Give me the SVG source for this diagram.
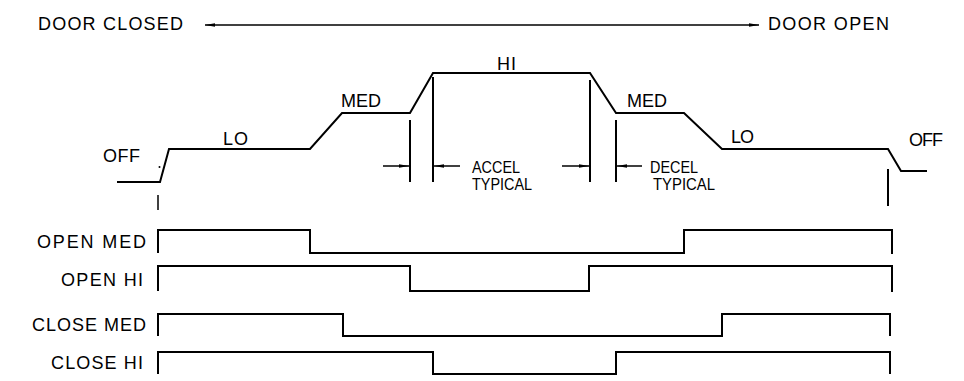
<svg xmlns="http://www.w3.org/2000/svg" width="964" height="381" viewBox="0 0 964 381">
<style>
.t{font-family:"Liberation Sans",Arial,sans-serif;font-size:18px;fill:#000}
.s{font-family:"Liberation Sans",Arial,sans-serif;font-size:16px;fill:#000}
.w{fill:none;stroke:#000;stroke-width:2;stroke-linejoin:miter}
.d{fill:none;stroke:#000;stroke-width:1.5}
</style>
<defs>
<marker id="ah" viewBox="0 0 10 4" refX="10" refY="2" markerWidth="10" markerHeight="4" markerUnits="userSpaceOnUse" orient="auto-start-reverse">
<path d="M0,0.2 L10,2 L0,3.8 Z" fill="#000"/>
</marker>
</defs>
<rect width="964" height="381" fill="#fff"/>
<g id="direction">
<text class="t" x="38" y="30" textLength="145" lengthAdjust="spacing">DOOR CLOSED</text>
<text class="t" x="768" y="30" textLength="121" lengthAdjust="spacing">DOOR OPEN</text>
<line class="d" x1="205" y1="25" x2="759" y2="25" marker-start="url(#ah)" marker-end="url(#ah)"/>
</g>
<g id="speed-profile">
<polyline class="w" points="117,182 160,182 169,149 310,149 342,113 410,113 433,73 590,73 616,113 684,113 722,149 888,149 901,171 927,171"/>
<text class="t" x="103" y="162" textLength="37" lengthAdjust="spacing">OFF</text>
<text class="t" x="223" y="145" textLength="25" lengthAdjust="spacing">LO</text>
<text class="t" x="341" y="107" textLength="40" lengthAdjust="spacing">MED</text>
<text class="t" x="497" y="70" textLength="19" lengthAdjust="spacing">HI</text>
<text class="t" x="627" y="107" textLength="40" lengthAdjust="spacing">MED</text>
<text class="t" x="731" y="143" textLength="23" lengthAdjust="spacing">LO</text>
<text class="t" x="909" y="146" textLength="34" lengthAdjust="spacing">OFF</text>
<circle cx="159.5" cy="167" r="1" fill="#000"/>
<line class="d" x1="158" y1="195" x2="158" y2="210"/>
</g>
<g id="dimensions">
<line class="w" x1="410" y1="120" x2="410" y2="182"/>
<line class="w" x1="433" y1="77" x2="433" y2="182"/>
<line class="w" x1="590" y1="80" x2="590" y2="182"/>
<line class="w" x1="616" y1="120" x2="616" y2="182"/>
<line class="w" x1="888" y1="169" x2="888" y2="206"/>
<line class="d" x1="383" y1="166" x2="409" y2="166" marker-end="url(#ah)"/>
<line class="d" x1="460" y1="166" x2="434" y2="166" marker-end="url(#ah)"/>
<line class="d" x1="562" y1="166" x2="589" y2="166" marker-end="url(#ah)"/>
<line class="d" x1="642" y1="166" x2="617" y2="166" marker-end="url(#ah)"/>
<text class="s" x="472" y="173" textLength="48" lengthAdjust="spacingAndGlyphs">ACCEL</text>
<text class="s" x="472" y="190" textLength="60" lengthAdjust="spacingAndGlyphs">TYPICAL</text>
<text class="s" x="650" y="173" textLength="48" lengthAdjust="spacingAndGlyphs">DECEL</text>
<text class="s" x="653" y="190" textLength="62" lengthAdjust="spacingAndGlyphs">TYPICAL</text>
</g>
<g id="open-med">
<text class="t" x="37" y="248" textLength="109" lengthAdjust="spacing">OPEN MED</text>
<polyline class="w" points="158,253 158,230 310,230 310,253 684,253 684,230 892,230 892,254"/>
</g>
<g id="open-hi">
<text class="t" x="61" y="286" textLength="82" lengthAdjust="spacing">OPEN HI</text>
<polyline class="w" points="158,291 158,266 410,266 410,291 589,291 589,266 892,266 892,292"/>
</g>
<g id="close-med">
<text class="t" x="32" y="331" textLength="114" lengthAdjust="spacing">CLOSE MED</text>
<polyline class="w" points="158,336 158,314 343,314 343,336 722,336 722,314 890,314 890,336"/>
</g>
<g id="close-hi">
<text class="t" x="51" y="369" textLength="92" lengthAdjust="spacing">CLOSE HI</text>
<polyline class="w" points="158,374 158,352 433,352 433,374 616,374 616,352 890,352 890,374"/>
</g>
</svg>
